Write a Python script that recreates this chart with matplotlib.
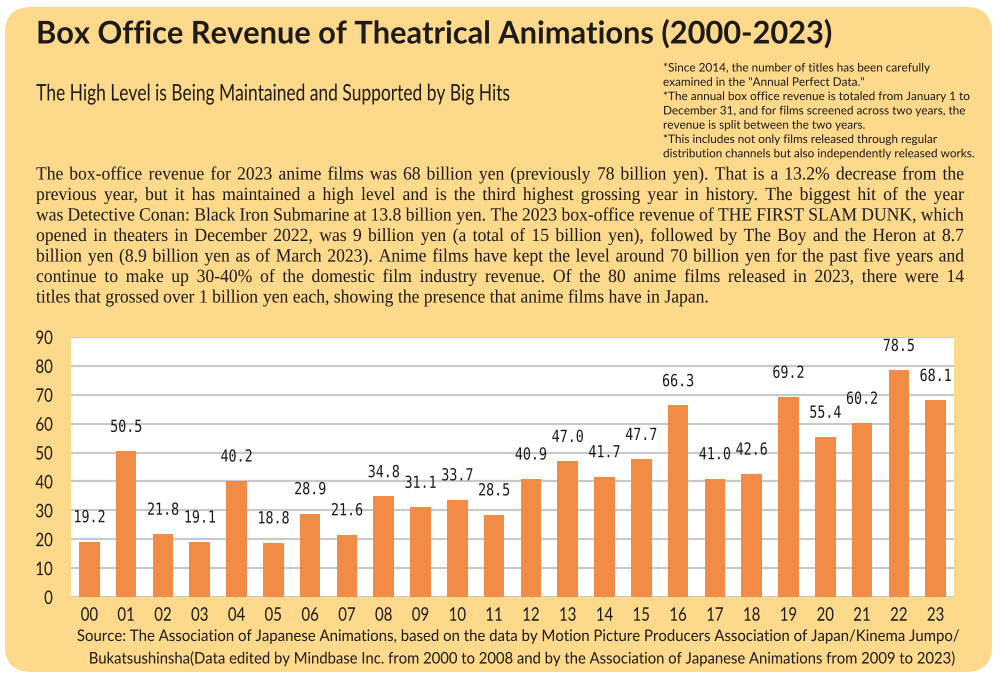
import matplotlib
matplotlib.use('Agg')
import matplotlib.pyplot as plt
from matplotlib.patches import FancyBboxPatch, Rectangle
from matplotlib.patheffects import AbstractPathEffect
from matplotlib.transforms import Affine2D

# ---------------- data ----------------
years = ['00', '01', '02', '03', '04', '05', '06', '07', '08', '09', '10', '11',
         '12', '13', '14', '15', '16', '17', '18', '19', '20', '21', '22', '23']
revenue = [19.2, 50.5, 21.8, 19.1, 40.2, 18.8, 28.9, 21.6, 34.8, 31.1, 33.7, 28.5,
           40.9, 47.0, 41.7, 47.7, 66.3, 41.0, 42.6, 69.2, 55.4, 60.2, 78.5, 68.1]
yticks = [0, 10, 20, 30, 40, 50, 60, 70, 80, 90]

title = "Box Office Revenue of Theatrical Animations (2000-2023)"
subtitle = "The High Level is Being Maintained and Supported by Big Hits"
notes = [
    '*Since 2014, the number of titles has been carefully',
    'examined in the "Annual Perfect Data."',
    '*The annual box office revenue is totaled from January 1 to',
    'December 31, and for films screened across two years, the',
    'revenue is split between the two years.',
    '*This includes not only films released through regular',
    'distribution channels but also independently released works.',
]
body = [
    "The box-office revenue for 2023 anime films was 68 billion yen (previously 78 billion yen). That is a 13.2% decrease from the",
    "previous year, but it has maintained a high level and is the third highest grossing year in history. The biggest hit of the year",
    "was Detective Conan: Black Iron Submarine at 13.8 billion yen. The 2023 box-office revenue of THE FIRST SLAM DUNK, which",
    "opened in theaters in December 2022, was 9 billion yen (a total of 15 billion yen), followed by The Boy and the Heron at 8.7",
    "billion yen (8.9 billion yen as of March 2023). Anime films have kept the level around 70 billion yen for the past five years and",
    "continue to make up 30-40% of the domestic film industry revenue. Of the 80 anime films released in 2023, there were 14",
    "titles that grossed over 1 billion yen each, showing the presence that anime films have in Japan.",
]
legend_lines = ["Box Office Revenue *All theatrical animations released via",
                "ordinary and independent distribution routes are included."]
source_lines = [
    "Source: The Association of Japanese Animations, based on the data by Motion Picture Producers Association of Japan/Kinema Jumpo/",
    "Bukatsushinsha(Data edited by Mindbase Inc. from 2000 to 2008 and by the Association of Japanese Animations from 2009 to 2023)",
]

# ---------------- styles ----------------
PANEL = '#FDD98C'
BAR = '#F28B46'
GRID = '#C9C9CB'
TXT = '#1E1A17'
BODY_FONT = 'Liberation Serif'
BODY_SIZE = 13.4


class Squeeze(AbstractPathEffect):
    """Horizontally scale a text path around an anchor (emulates condensed fonts)."""
    def __init__(self, sx, anchor='left'):
        super().__init__()
        self.sx = sx
        self.anchor = anchor

    def draw_path(self, renderer, gc, tpath, affine, rgbFace=None):
        ext = tpath.get_extents(affine)
        if self.anchor == 'left':
            cx = ext.x0
        elif self.anchor == 'right':
            cx = ext.x1
        else:
            cx = 0.5 * (ext.x0 + ext.x1)
        aff = affine + Affine2D().translate(-cx, 0).scale(self.sx, 1).translate(cx, 0)
        renderer.draw_path(gc, tpath, aff, rgbFace)


fig = plt.figure(figsize=(10, 6.79), dpi=100)
fig.patch.set_facecolor('white')
renderer = fig.canvas.get_renderer()

bg = fig.add_axes([0, 0, 1, 1], zorder=0)
bg.set_xlim(0, 1000)
bg.set_ylim(679, 0)
bg.axis('off')
bg.add_patch(FancyBboxPatch((5, 7), 987, 665,
                            boxstyle='round,pad=0,rounding_size=26',
                            facecolor=PANEL, edgecolor='none'))


def put(x, y, s, size, family='Lato', target_w=None, sx=None, ha='left',
        va='center', weight='normal', ax=None):
    ax = ax or bg
    t = ax.text(x, y, s, fontsize=size, family=family, ha=ha, va=va,
                weight=weight, color=TXT, zorder=5)
    if target_w is not None:
        w = t.get_window_extent(renderer).width
        sx = target_w / w
    if sx is not None:
        t.set_path_effects([Squeeze(sx, ha)])
    return t, sx


def width_of(s, size, family):
    t = bg.text(0, 0, s, fontsize=size, family=family)
    w = t.get_window_extent(renderer).width
    t.remove()
    return w


# titles
put(36, 34, title, 22.5, weight='bold', target_w=797)
put(36, 94, subtitle, 16.5, target_w=474)

# notes
_, nsx = put(663, 68 + 14.3 * 2, notes[2], 8.5, target_w=308)
for i, line in enumerate(notes):
    if i == 2:
        continue
    put(663, 68 + 14.3 * i, line, 8.5, sx=nsx)

# body text (justified, common horizontal scale)
BX0, BX1 = 36, 964
sp = width_of('a a', BODY_SIZE, BODY_FONT) - width_of('aa', BODY_SIZE, BODY_FONT)
word_w = []
for line in body:
    word_w.append([width_of(w, BODY_SIZE, BODY_FONT) for w in line.split(' ')])
natural = [sum(ws) + sp * (len(ws) - 1) for ws in word_w[:-1]]
scale = min(1.0, min((BX1 - BX0 - sp * 0.9 * (len(ws) - 1)) / sum(ws)
                     for ws in word_w[:-1]))
for i, line in enumerate(body):
    y = 175 + 20.5 * i
    words = line.split(' ')
    ws = word_w[i]
    total = sum(ws) * scale
    if i < len(body) - 1:
        gap = (BX1 - BX0 - total) / (len(words) - 1)
    else:
        gap = sp * scale
    x = BX0
    for wd, w in zip(words, ws):
        t = bg.text(x, y, wd, fontsize=BODY_SIZE, family=BODY_FONT,
                    ha='left', va='center', color=TXT, zorder=5)
        if scale != 1.0:
            t.set_path_effects([Squeeze(scale, 'left')])
        x += w * scale + gap

# ---------------- chart ----------------
ax = fig.add_axes([71 / 1000, 1 - 597 / 679, 883 / 1000, 260 / 679], zorder=1)
ax.set_facecolor('white')
xpos = list(range(len(years)))
bars = ax.bar(xpos, revenue, width=0.56, color=BAR, zorder=3)
ax.set_xlim(-0.5, len(years) - 0.5)
ax.set_ylim(0, 90)
ax.set_yticks(yticks)
ax.set_xticks(xpos)
ax.set_xticklabels(years)
ax.yaxis.grid(True, color=GRID, linewidth=1.6, zorder=0)
ax.set_axisbelow(True)
for s in ax.spines.values():
    s.set_visible(False)
ax.tick_params(axis='both', length=0, labelsize=13.5, colors=TXT)
ax.tick_params(axis='y', pad=13)
ax.tick_params(axis='x', pad=7)
for lab in ax.get_yticklabels():
    lab.set_family('Lato')
    lab.set_path_effects([Squeeze(0.8, 'right')])
for lab in ax.get_xticklabels():
    lab.set_family('Lato')
    lab.set_path_effects([Squeeze(0.8, 'center')])

for xi, v in zip(xpos, revenue):
    t = ax.annotate(f'{v:.1f}', (xi, v), xytext=(0, 11), textcoords='offset points',
                    ha='center', va='bottom', fontsize=12, family='DejaVu Sans Mono',
                    color=TXT, zorder=4)
    t.set_path_effects([Squeeze(0.8, 'center')])

# legend (manual)
bg.add_patch(Rectangle((120, 343), 14, 14, facecolor=BAR, edgecolor='none', zorder=5))
put(137, 350, legend_lines[0], 11.5, family='Open Sans', target_w=446)
put(118, 369, legend_lines[1], 11.5, family='Open Sans', target_w=447)

# source
put(961, 637, source_lines[0], 11.5, target_w=884, ha='right')
put(958, 659, source_lines[1], 11.5, target_w=869, ha='right')

fig.savefig('out.png', dpi=100, facecolor='white')
